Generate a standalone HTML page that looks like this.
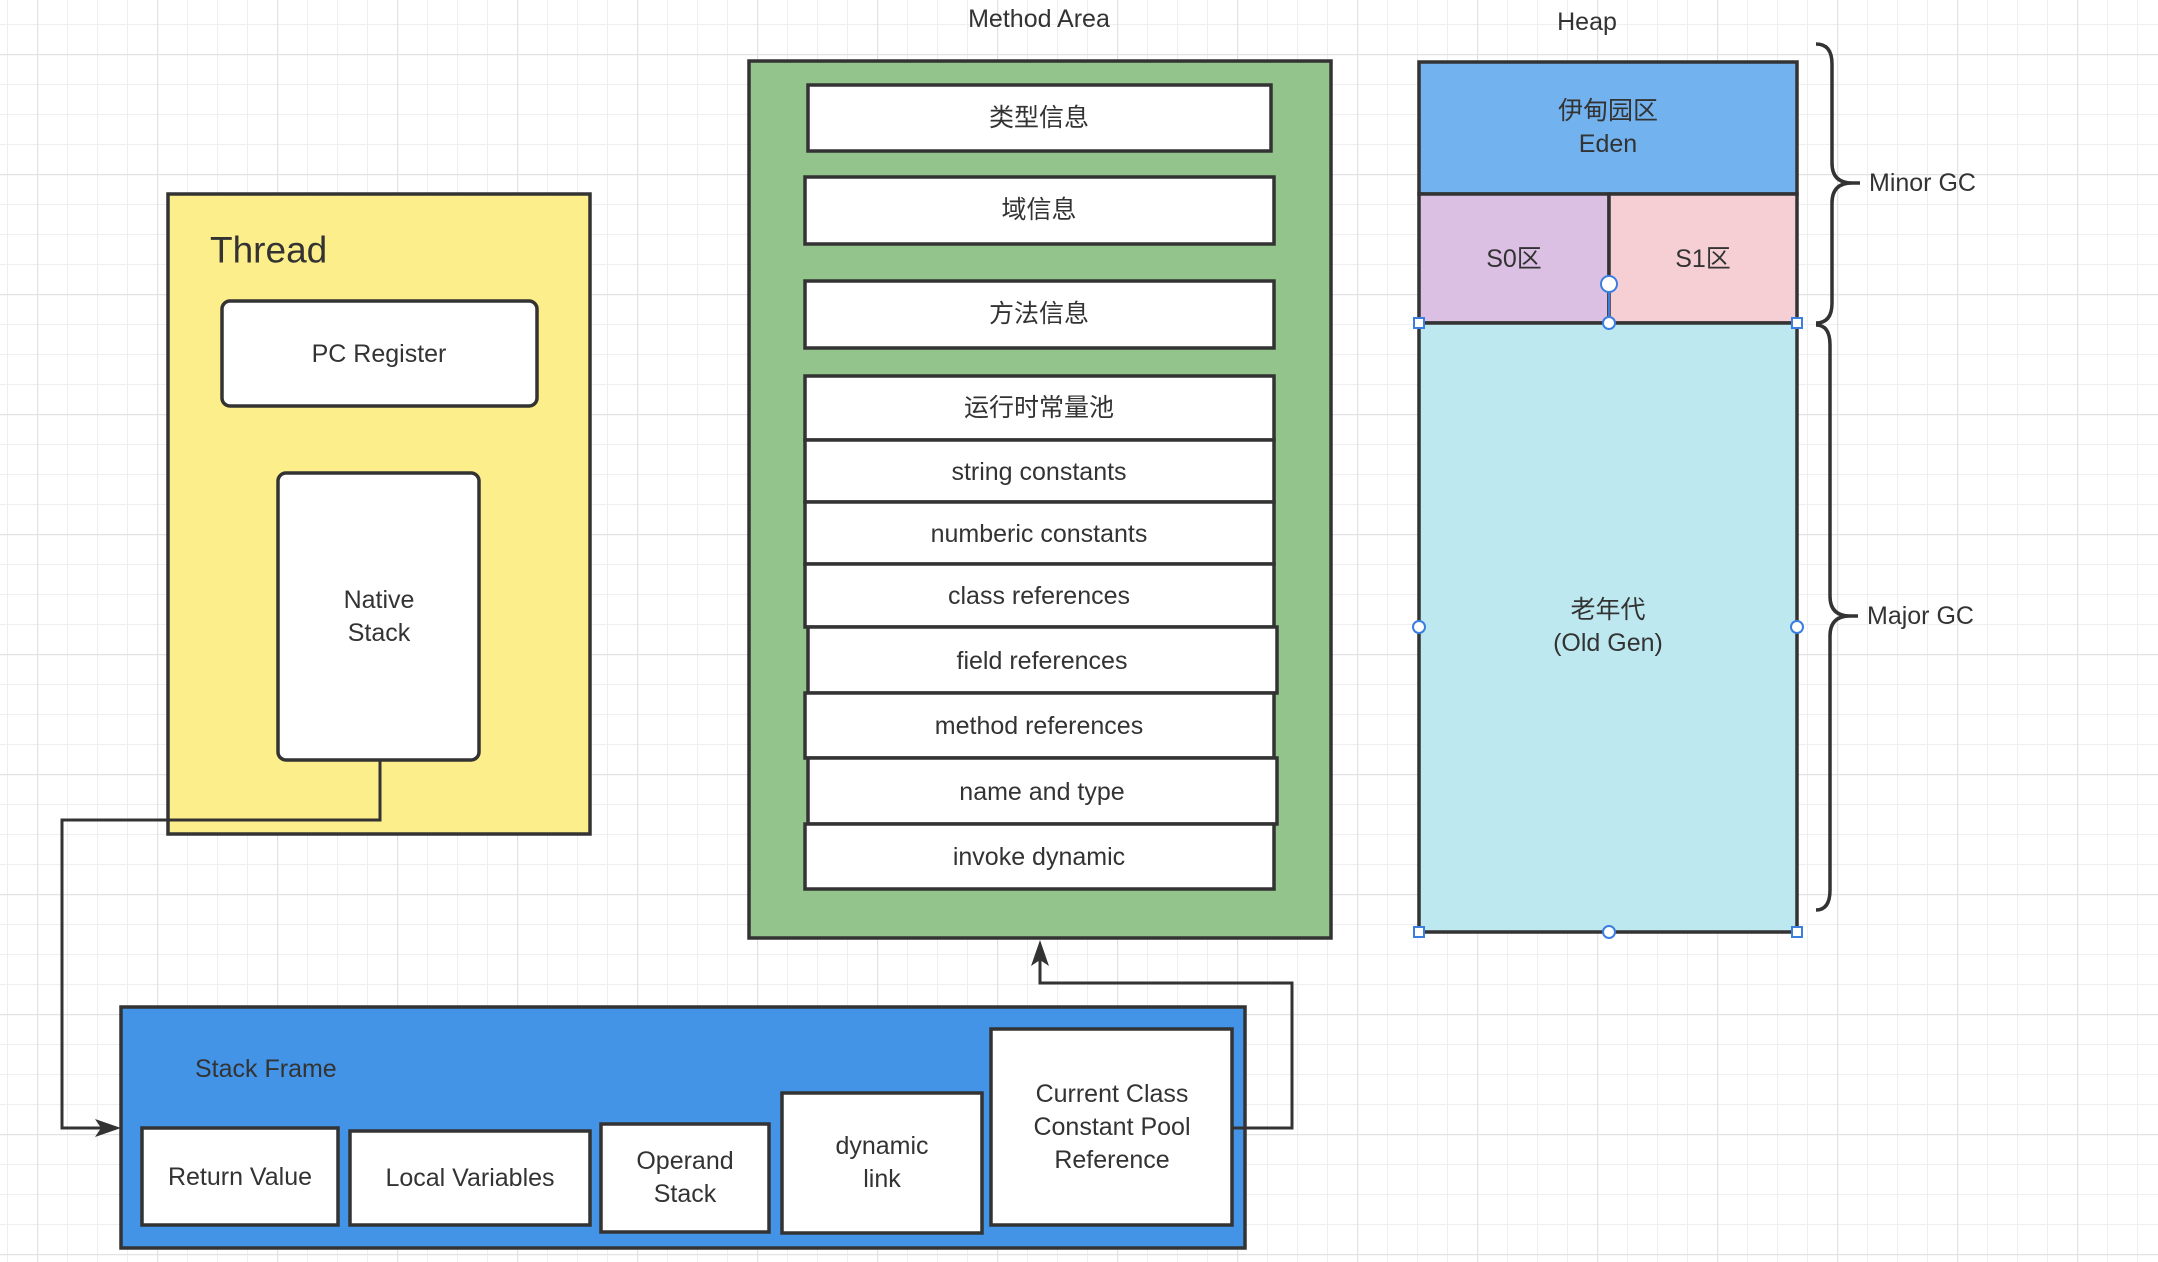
<!DOCTYPE html>
<html><head><meta charset="utf-8"><style>
html,body{margin:0;padding:0;background:#fff}
svg{display:block}
text{font-family:"Liberation Sans","Noto Sans CJK SC",sans-serif;fill:#333;font-size:25px;text-anchor:middle;dominant-baseline:central}
</style></head><body>
<svg width="2158" height="1262" viewBox="0 0 2158 1262" xmlns="http://www.w3.org/2000/svg">
<defs>
<pattern id="gmin" x="7" y="24" width="30" height="30" patternUnits="userSpaceOnUse"><path d="M0 0H30M0 0V30" stroke="#efefef" stroke-width="2" fill="none"/></pattern>
<pattern id="gmaj" x="37" y="54" width="120" height="120" patternUnits="userSpaceOnUse"><path d="M0 0H120M0 0V120" stroke="#e3e3e3" stroke-width="2.5" fill="none"/></pattern>
</defs>
<rect width="2158" height="1262" fill="url(#gmin)"/>
<rect width="2158" height="1262" fill="url(#gmaj)"/>

<g stroke="#333" stroke-width="3.5">
<!-- Thread -->
<rect x="168" y="194" width="422" height="640" fill="#fcee8a"/>
<rect x="222" y="301" width="315" height="105" rx="8" fill="#fff"/>
<rect x="278" y="473" width="201" height="287" rx="8" fill="#fff"/>
<!-- Method area -->
<rect x="749" y="61" width="582" height="877" fill="#93c48b"/>
<g fill="#fff">
<rect x="808" y="85" width="463" height="66"/>
<rect x="805" y="177" width="469" height="67"/>
<rect x="805" y="281" width="469" height="67"/>
<rect x="805" y="376" width="469" height="64"/>
<rect x="805" y="440" width="469" height="62"/>
<rect x="805" y="502" width="469" height="62"/>
<rect x="805" y="564" width="469" height="63"/>
<rect x="808" y="627" width="469" height="66"/>
<rect x="805" y="693" width="469" height="65"/>
<rect x="808" y="758" width="469" height="66"/>
<rect x="805" y="824" width="469" height="65"/>
</g>
<!-- Heap -->
<rect x="1419" y="62" width="378" height="132" fill="#72b3ef"/>
<rect x="1419" y="194" width="190" height="129" fill="#dcc0e4"/>
<rect x="1609" y="194" width="188" height="129" fill="#f6cfd5"/>
<rect x="1419" y="323" width="378" height="609" fill="#bde8ef"/>
<!-- braces -->
<path d="M1816 44 Q1832 44 1832 64 V163 Q1832 183 1852 183 H1860 M1852 183 Q1832 183 1832 203 V303 Q1832 323 1816 323" fill="none"/>
<path d="M1816 325 Q1830 325 1830 345 V596 Q1830 616 1850 616 H1858 M1850 616 Q1830 616 1830 636 V890 Q1830 910 1816 910" fill="none"/>
<!-- Stack frame -->
<rect x="121" y="1007" width="1124" height="241" fill="#4394e6"/>
<g fill="#fff">
<rect x="142" y="1128" width="196" height="97"/>
<rect x="350" y="1131" width="240" height="94"/>
<rect x="601" y="1124" width="168" height="108"/>
<rect x="782" y="1093" width="200" height="140"/>
<rect x="991" y="1029" width="241" height="196"/>
</g>
<!-- connectors -->
<path d="M380 760 V820 H62 V1128 H105" fill="none" stroke-width="3"/>
<path d="M1232 1128 H1292 V983 H1040 V960" fill="none" stroke-width="3"/>
</g>
<path d="M121 1128 L95 1119 L101 1128 L95 1137Z" fill="#333"/>
<path d="M1040 940 L1031 966 L1040 960 L1049 966Z" fill="#333"/>

<!-- handles -->
<g stroke="#3a7ee0" stroke-width="2" fill="#fff">
<line x1="1609" y1="284" x2="1609" y2="323"/>
<rect x="1414" y="318" width="10" height="10"/><rect x="1792" y="318" width="10" height="10"/>
<rect x="1414" y="927" width="10" height="10"/><rect x="1792" y="927" width="10" height="10"/>
<circle cx="1609" cy="323" r="6"/><circle cx="1419" cy="627" r="6"/><circle cx="1797" cy="627" r="6"/><circle cx="1609" cy="932" r="6"/>
<circle cx="1609" cy="284" r="8"/>
</g>

<!-- text -->
<text x="210" y="250" style="text-anchor:start;font-size:37px">Thread</text>
<text x="379" y="354">PC Register</text>
<text x="379" y="600">Native</text><text x="379" y="633">Stack</text>
<text x="1039" y="19">Method Area</text>
<text x="1039" y="118">类型信息</text>
<text x="1039" y="210">域信息</text>
<text x="1039" y="314">方法信息</text>
<text x="1039" y="408">运行时常量池</text>
<text x="1039" y="472">string constants</text>
<text x="1039" y="534">numberic constants</text>
<text x="1039" y="596">class references</text>
<text x="1042" y="661">field references</text>
<text x="1039" y="726">method references</text>
<text x="1042" y="792">name and type</text>
<text x="1039" y="857">invoke dynamic</text>
<text x="1587" y="22">Heap</text>
<text x="1608" y="111">伊甸园区</text><text x="1608" y="144">Eden</text>
<text x="1514" y="259">S0区</text><text x="1703" y="259">S1区</text>
<text x="1608" y="610">老年代</text><text x="1608" y="643">(Old Gen)</text>
<text x="1869" y="183" style="text-anchor:start">Minor GC</text>
<text x="1867" y="616" style="text-anchor:start">Major GC</text>
<text x="195" y="1069" style="text-anchor:start">Stack Frame</text>
<text x="240" y="1177">Return Value</text>
<text x="470" y="1178">Local Variables</text>
<text x="685" y="1161">Operand</text><text x="685" y="1194">Stack</text>
<text x="882" y="1146">dynamic</text><text x="882" y="1179">link</text>
<text x="1112" y="1094">Current Class</text><text x="1112" y="1127">Constant Pool</text><text x="1112" y="1160">Reference</text>
</svg>
</body></html>
